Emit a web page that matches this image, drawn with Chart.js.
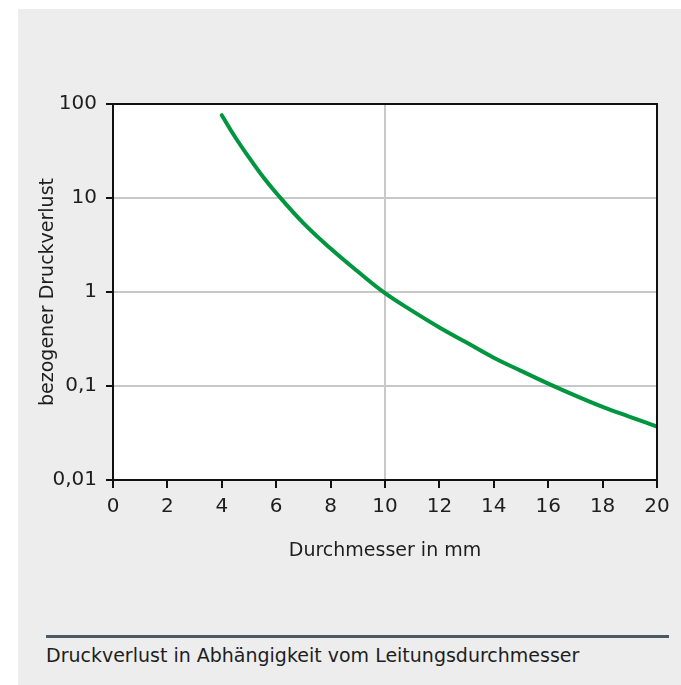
<!DOCTYPE html>
<html lang="de">
<head>
    <meta charset="UTF-8">
    <title>Druckverlust in Abhängigkeit vom Leitungsdurchmesser</title>
    <script src="https://cdn.jsdelivr.net/npm/chart.js"></script>
    <style>
        body {
            margin: 0;
            background: #fff;
            font-family: "DejaVu Sans", sans-serif;
        }
        .panel {
            position: absolute;
            left: 18px;
            top: 9px;
            width: 663px;
            height: 676px;
            background: #ededed;
        }
        #chart {
            position: absolute;
            left: 0;
            top: 0;
        }
        .rule {
            position: absolute;
            left: 28px;
            top: 626px;
            width: 623px;
            height: 3px;
            background: #4b5963;
        }
        .caption {
            position: absolute;
            left: 28px;
            top: 637px;
            font-size: 19px;
            line-height: 19px;
            color: #1e1e1e;
            white-space: nowrap;
        }
    </style>
</head>
<body>
    <div class="panel">
        <canvas id="chart" width="663" height="600"></canvas>
        <div class="rule"></div>
        <div class="caption">Druckverlust in Abhängigkeit vom Leitungsdurchmesser</div>
    </div>

    <script>
        // values
        const diameters = [4, 4.5, 5, 5.5, 6, 7, 8, 9, 10, 11, 12, 13, 14, 15, 16, 17, 18, 19, 20];
        const pressureLoss = [76, 44, 27, 17, 11.3, 5.4, 2.9, 1.65, 0.97, 0.63, 0.42, 0.29, 0.2, 0.145, 0.106, 0.079, 0.06, 0.047, 0.037];
        const yTicks = [0.01, 0.1, 1, 10, 100];
        const yTickLabels = ['0,01', '0,1', '1', '10', '100'];

        const textColor = '#1e1e1e';
        const gridColor = '#c8c8c8';
        const tickFont = { family: 'DejaVu Sans', size: 20 };
        const titleFont = { family: 'DejaVu Sans', size: 19 };

        // white plot area plus black frame round it
        const plotFrame = {
            id: 'plotFrame',
            beforeDraw(chart) {
                const { ctx, chartArea: a } = chart;
                ctx.save();
                ctx.fillStyle = '#fff';
                ctx.fillRect(a.left, a.top, a.right - a.left, a.bottom - a.top);
                ctx.restore();
            },
            afterDraw(chart) {
                const { ctx, chartArea: a } = chart;
                ctx.save();
                ctx.strokeStyle = '#111';
                ctx.lineWidth = 2;
                ctx.strokeRect(a.left, a.top, a.right - a.left, a.bottom - a.top);
                ctx.restore();
            }
        };

        new Chart(document.getElementById('chart').getContext('2d'), {
            type: 'line',
            data: {
                datasets: [{
                    data: diameters.map((d, i) => ({ x: d, y: pressureLoss[i] })),
                    borderColor: '#00963f',
                    borderWidth: 4,
                    borderCapStyle: 'round',
                    pointRadius: 0,
                    tension: 0.4
                }]
            },
            options: {
                responsive: false,
                animation: false,
                devicePixelRatio: 1,
                layout: { padding: { left: 0, top: 95, right: 24, bottom: 39 } },
                plugins: { legend: { display: false }, tooltip: { enabled: false } },
                scales: {
                    x: {
                        type: 'linear',
                        min: 0,
                        max: 20,
                        ticks: {
                            stepSize: 2,
                            color: textColor,
                            font: tickFont,
                            padding: 7,
                            maxRotation: 0
                        },
                        grid: {
                            color: ctx => (ctx.tick && ctx.tick.value === 10) ? gridColor : 'rgba(0,0,0,0)',
                            lineWidth: 2,
                            tickColor: '#111',
                            tickLength: 8,
                            tickWidth: 2
                        },
                        border: { color: '#111', width: 2 },
                        title: {
                            display: true,
                            text: 'Durchmesser in mm',
                            color: textColor,
                            font: titleFont,
                            padding: { top: 0, bottom: 8 }
                        },
                        afterFit(scale) { scale.height = 90; }
                    },
                    y: {
                        type: 'logarithmic',
                        min: 0.01,
                        max: 100,
                        afterBuildTicks(scale) {
                            scale.ticks = yTicks.map(v => ({ value: v }));
                        },
                        ticks: {
                            autoSkip: false,
                            color: textColor,
                            font: tickFont,
                            padding: 9,
                            callback: value => yTickLabels[yTicks.indexOf(value)]
                        },
                        grid: {
                            color: gridColor,
                            lineWidth: 2,
                            tickColor: '#111',
                            tickLength: 7,
                            tickWidth: 2
                        },
                        border: { color: '#111', width: 2 },
                        title: {
                            display: true,
                            text: 'bezogener Druckverlust',
                            color: textColor,
                            font: titleFont,
                            padding: { top: 19, bottom: 0 }
                        },
                        afterFit(scale) { scale.width = 95; }
                    }
                }
            },
            plugins: [plotFrame]
        });
    </script>
</body>
</html>
